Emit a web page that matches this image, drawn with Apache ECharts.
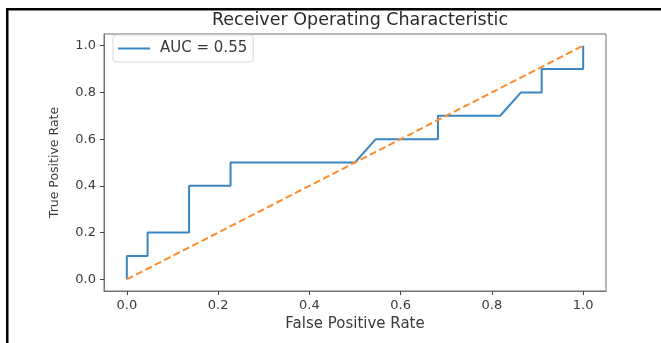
<!DOCTYPE html>
<html>
<head>
<meta charset="utf-8">
<script src="https://cdn.jsdelivr.net/npm/echarts@6/dist/echarts.min.js"></script>
<style>
html,body{margin:0;padding:0;background:#fff;}
#chart{width:661px;height:343px;}
</style>
</head>
<body>
<div id="chart"></div>
<script>
// ROC curve values
var fpr = [0, 0, 0.0455, 0.0455, 0.1364, 0.1364, 0.2273, 0.2273, 0.5, 0.5455, 0.6818, 0.6818, 0.8182, 0.8636, 0.9091, 0.9091, 1, 1];
var tpr = [0, 0.1, 0.1, 0.2, 0.2, 0.4, 0.4, 0.5, 0.5, 0.6, 0.6, 0.7, 0.7, 0.8, 0.8, 0.9, 0.9, 1];
var chanceX = [0, 1];
var chanceY = [0, 1];
var tickValues = [0, 0.2, 0.4, 0.6, 0.8, 1.0];
var rocLabel = 'AUC = 0.55';
var titleText = 'Receiver Operating Characteristic';
var xName = 'False Positive Rate';
var yName = 'True Positive Rate';

var rocData = fpr.map(function (x, i) { return [x, tpr[i]]; });
var chanceData = chanceX.map(function (x, i) { return [x, chanceY[i]]; });

var font = 'DejaVu Sans';
var textColor = '#3a3a3a';
var spineColor = '#727272';

function axisCommon(name, nameGap, nameSize, labelMargin) {
  return {
    type: 'value',
    min: -0.05,
    max: 1.05,
    name: name,
    nameLocation: 'middle',
    nameGap: nameGap,
    nameTextStyle: { fontFamily: font, fontSize: nameSize, color: textColor },
    splitLine: { show: false },
    axisLine: { show: true, onZero: false, lineStyle: { color: spineColor, width: 1 } },
    axisTick: { show: true, length: 4, lineStyle: { color: '#444', width: 1 }, customValues: tickValues },
    axisLabel: {
      fontFamily: font, fontSize: 13, color: textColor, margin: labelMargin,
      customValues: tickValues,
      formatter: function (v) { return v.toFixed(1); }
    }
  };
}

var chart = echarts.init(document.getElementById('chart'), null, { renderer: 'canvas' });
chart.setOption({
  backgroundColor: '#fff',
  animation: false,
  title: {
    text: titleText,
    left: 355,
    textAlign: 'center',
    top: 6,
    textStyle: { fontFamily: font, fontSize: 17.5, fontWeight: 'normal', color: '#2a2a2a' }
  },
  grid: {
    left: 104, top: 34, width: 502, height: 257,
    show: true, borderColor: spineColor, borderWidth: 1, backgroundColor: 'transparent'
  },
  legend: {
    data: [rocLabel],
    left: 113, top: 35,
    icon: 'rect',
    itemWidth: 32, itemHeight: 2,
    padding: [6, 6, 6, 5],
    borderColor: '#d8d8d8', borderWidth: 1, borderRadius: 3,
    textStyle: { fontFamily: font, fontSize: 15, color: textColor, padding: [0, 0, 0, 5] }
  },
  xAxis: axisCommon(xName, 22.5, 15, 8),
  yAxis: axisCommon(yName, 42.5, 12.5, 8),
  series: [
    {
      name: rocLabel,
      type: 'line',
      data: rocData,
      symbol: 'none',
      lineStyle: { color: '#3a86c2', width: 2 },
      itemStyle: { color: '#3a86c2' }
    },
    {
      name: 'chance',
      type: 'line',
      data: chanceData,
      symbol: 'none',
      lineStyle: { color: '#ff8c2a', width: 2, type: [7, 3.5] },
      itemStyle: { color: '#ff8c2a' }
    }
  ],
  graphic: [
    { type: 'rect', shape: { x: 6, y: 8, width: 661, height: 2.5 }, style: { fill: '#000' }, silent: true },
    { type: 'rect', shape: { x: 6, y: 8, width: 2.5, height: 340 }, style: { fill: '#000' }, silent: true }
  ]
});
</script>
</body>
</html>
